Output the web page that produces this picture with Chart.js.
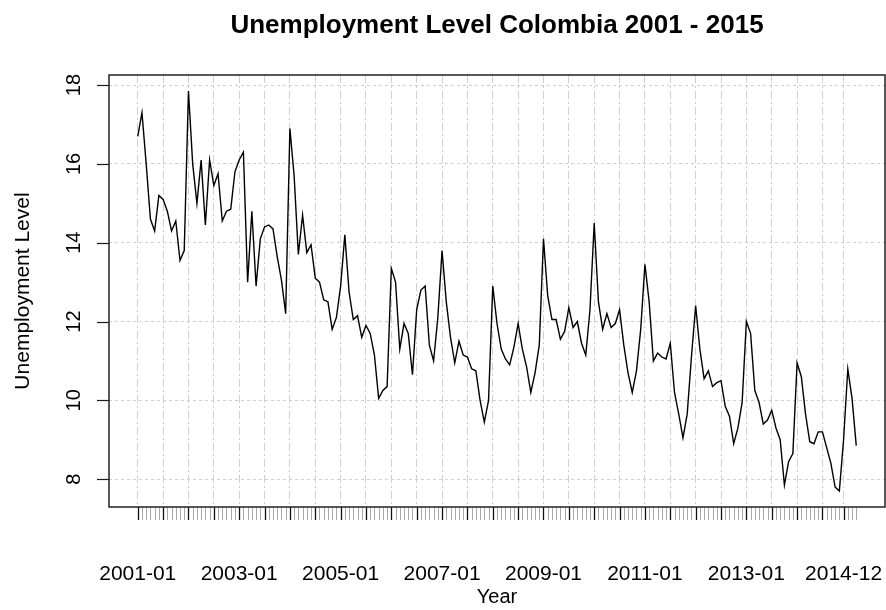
<!DOCTYPE html>
<html>
<head>
<meta charset="utf-8">
<script src="https://cdn.jsdelivr.net/npm/chart.js@4.4.1/dist/chart.umd.min.js"></script>
<style>
  html, body { margin: 0; padding: 0; background: #ffffff; }
  #wrap { width: 886px; height: 610px; position: relative; }
</style>
</head>
<body>
<div id="wrap"><canvas id="chart" width="886" height="610"></canvas></div>
<script>
// Monthly unemployment level (%), one array per year
const y2001 = [16.7, 17.3, 16.0, 14.6, 14.3, 15.2, 15.1, 14.8, 14.3, 14.55, 13.55, 13.8];
const y2002 = [17.85, 16.0, 15.0, 16.1, 14.45, 16.1, 15.45, 15.75, 14.55, 14.8, 14.85, 15.8];
const y2003 = [16.1, 16.3, 13.0, 14.8, 12.9, 14.1, 14.4, 14.45, 14.35, 13.65, 13.05, 12.2];
const y2004 = [16.9, 15.7, 13.7, 14.7, 13.75, 13.95, 13.1, 13.0, 12.55, 12.5, 11.8, 12.1];
const y2005 = [12.9, 14.2, 12.75, 12.05, 12.15, 11.6, 11.9, 11.7, 11.15, 10.05, 10.25, 10.35];
const y2006 = [13.35, 13.0, 11.3, 11.95, 11.7, 10.65, 12.3, 12.8, 12.9, 11.4, 11.0, 12.1];
const y2007 = [13.8, 12.5, 11.6, 10.95, 11.5, 11.15, 11.1, 10.8, 10.75, 10.0, 9.45, 10.0];
const y2008 = [12.9, 11.95, 11.3, 11.05, 10.9, 11.35, 11.95, 11.3, 10.85, 10.2, 10.7, 11.4];
const y2009 = [14.1, 12.65, 12.05, 12.05, 11.55, 11.75, 12.35, 11.85, 12.0, 11.45, 11.15, 12.3];
const y2010 = [14.5, 12.5, 11.8, 12.2, 11.85, 11.95, 12.3, 11.4, 10.7, 10.2, 10.75, 11.8];
const y2011 = [13.45, 12.5, 11.0, 11.2, 11.1, 11.05, 11.45, 10.2, 9.65, 9.05, 9.65, 11.1];
const y2012 = [12.4, 11.3, 10.55, 10.75, 10.35, 10.45, 10.5, 9.85, 9.6, 8.9, 9.3, 9.95];
const y2013 = [12.0, 11.7, 10.25, 9.95, 9.4, 9.5, 9.75, 9.3, 9.0, 7.85, 8.45, 8.65];
const y2014 = [10.95, 10.6, 9.65, 8.95, 8.9, 9.2, 9.2, 8.8, 8.4, 7.8, 7.7, 9.0];
const y2015 = [10.8, 10.05, 8.85];

// Y axis tick values
const yTicks = [8, 10, 12, 14, 16, 18];
// Month offsets (from 2001-01) of the major x ticks / vertical grid lines
const majorMonths = [0, 6, 12, 18, 24, 30, 36, 42, 48, 54, 60, 66, 72, 78, 84, 90, 96, 102,
                     108, 114, 120, 126, 132, 138, 144, 150, 156, 162, 167];
// Labelled x ticks
const labelMonths = [0, 24, 48, 72, 96, 120, 144, 167];
const tickLabels = ['2001-01', '2003-01', '2005-01', '2007-01', '2009-01', '2011-01', '2013-01', '2014-12'];

const series = [].concat(y2001, y2002, y2003, y2004, y2005, y2006, y2007, y2008,
                         y2009, y2010, y2011, y2012, y2013, y2014, y2015);
const points = series.map((v, i) => ({ x: i, y: v }));

// Axis ranges padded by 4% on each side (base-graphics style)
const n = series.length - 1;
const xPad = n * 0.04;
const yMin = Math.min(...series), yMax = Math.max(...series);
const yPad = (yMax - yMin) * 0.04;

const FONT = '"Liberation Sans", Arial, Helvetica, sans-serif';

// Draws the frame, tick marks and all axis text in a base-graphics look
const frameAndText = {
  id: 'frameAndText',
  afterDraw(chart) {
    const { ctx, chartArea: a, scales: { x, y } } = chart;
    ctx.save();

    // y tick marks
    ctx.strokeStyle = '#1a1a1a';
    ctx.lineWidth = 1.2;
    yTicks.forEach(v => {
      const py = Math.round(y.getPixelForValue(v)) + 0.5;
      ctx.beginPath(); ctx.moveTo(a.left, py); ctx.lineTo(a.left - 12, py); ctx.stroke();
    });

    // monthly minor ticks
    ctx.strokeStyle = '#a8a8a8';
    ctx.lineWidth = 1;
    points.forEach(p => {
      const px = Math.round(x.getPixelForValue(p.x)) + 0.5;
      ctx.beginPath(); ctx.moveTo(px, a.bottom); ctx.lineTo(px, a.bottom + 13); ctx.stroke();
    });

    // major ticks
    ctx.strokeStyle = '#111';
    ctx.lineWidth = 1.3;
    majorMonths.forEach(m => {
      const px = Math.round(x.getPixelForValue(m)) + 0.5;
      ctx.beginPath(); ctx.moveTo(px, a.bottom); ctx.lineTo(px, a.bottom + 13); ctx.stroke();
    });

    // plot frame
    ctx.strokeStyle = '#222';
    ctx.lineWidth = 1.5;
    ctx.strokeRect(a.left, a.top, a.right - a.left, a.bottom - a.top);

    ctx.fillStyle = '#000';
    ctx.textAlign = 'center';
    ctx.textBaseline = 'alphabetic';

    // x tick labels
    ctx.font = '21px ' + FONT;
    labelMonths.forEach((m, k) => {
      ctx.fillText(tickLabels[k], x.getPixelForValue(m), 580);
    });

    // y tick labels, parallel to the axis
    ctx.font = '20px ' + FONT;
    yTicks.forEach(v => {
      ctx.save();
      ctx.translate(80, y.getPixelForValue(v));
      ctx.rotate(-Math.PI / 2);
      ctx.fillText(String(v), 0, 0);
      ctx.restore();
    });

    // axis titles
    ctx.font = '20px ' + FONT;
    ctx.fillText('Year', (a.left + a.right) / 2, 603);
    ctx.font = '21px ' + FONT;
    ctx.save();
    ctx.translate(29, (a.top + a.bottom) / 2);
    ctx.rotate(-Math.PI / 2);
    ctx.fillText('Unemployment Level', 0, 0);
    ctx.restore();

    // main title
    ctx.font = 'bold 26px ' + FONT;
    ctx.fillText('Unemployment Level Colombia 2001 - 2015', (a.left + a.right) / 2, 33);

    ctx.restore();
  }
};

new Chart(document.getElementById('chart'), {
  type: 'line',
  data: {
    datasets: [{
      data: points,
      borderColor: '#000',
      borderWidth: 1.4,
      pointRadius: 0,
      tension: 0,
      fill: false
    }]
  },
  options: {
    responsive: false,
    animation: false,
    devicePixelRatio: 1,
    layout: { padding: { left: 109, right: 1, top: 75, bottom: 103 } },
    plugins: { legend: { display: false }, tooltip: { enabled: false }, title: { display: false } },
    scales: {
      x: {
        type: 'linear',
        min: -xPad,
        max: n + xPad,
        afterBuildTicks: s => { s.ticks = majorMonths.map(v => ({ value: v })); },
        ticks: { display: false },
        grid: { color: '#cfcfcf', lineWidth: 1, drawTicks: false },
        border: { display: false, dash: [8, 3, 2, 3] }
      },
      y: {
        type: 'linear',
        min: yMin - yPad,
        max: yMax + yPad,
        afterBuildTicks: s => { s.ticks = yTicks.map(v => ({ value: v })); },
        ticks: { display: false },
        grid: { color: '#cfcfcf', lineWidth: 1, drawTicks: false },
        border: { display: false, dash: [3, 3] }
      }
    }
  },
  plugins: [frameAndText]
});
</script>
</body>
</html>
